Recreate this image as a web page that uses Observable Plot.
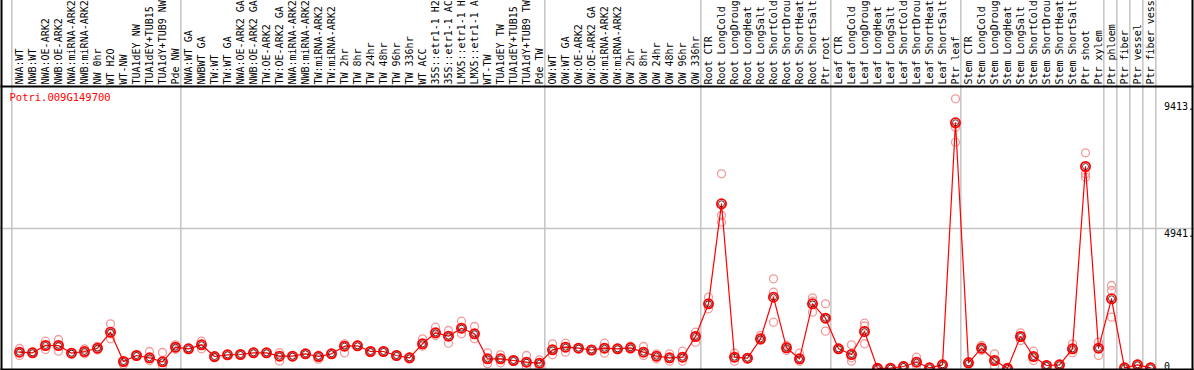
<!DOCTYPE html>
<html>
<head>
<meta charset="utf-8">
<script src="https://cdn.jsdelivr.net/npm/d3@7"></script>
<script src="https://cdn.jsdelivr.net/npm/@observablehq/plot@0.6"></script>
<style>
  html, body { margin: 0; padding: 0; background: white; }
</style>
</head>
<body>
<div id="chart"></div>
<script>
const geneId = "Potri.009G149700";

const labels = [
  "NWA:WT","NWB:WT","NWA:OE-ARK2","NWB:OE-ARK2","NWA:miRNA-ARK2","NWB:miRNA-ARK2","NW 0hr","WT H2O","WT-NW","TUA1dEY NW",
  "TUA1dEY+TUB15 NW","TUA1dY+TUB9 NW","Pde NW","NWA:WT GA","NWBWT GA","TW:WT","TW:WT GA","NWA:OE-ARK2 GA","NWB:OE-ARK2 GA","TW:OE-ARK2",
  "TW:OE-ARK2 GA","NWA:miRNA-ARK2","NWB:miRNA-ARK2","TW:miRNA-ARK2","TW:miRNA-ARK2","TW 2hr","TW 8hr","TW 24hr","TW 48hr","TW 96hr",
  "TW 336hr","WT ACC","35S::etr1-1 H2O","35S::etr1-1 ACC","LMX5::etr1-1 H2O","LMX5::etr1-1 ACC","WT-TW","TUA1dEY TW","TUA1dEY+TUB15 TW","TUA1dY+TUB9 TW",
  "Pde TW","OW:WT","OW:WT GA","OW:OE-ARK2","OW:OE-ARK2 GA","OW:miRNA-ARK2","OW:miRNA-ARK2","OW 2hr","OW 8hr","OW 24hr",
  "OW 48hr","OW 96hr","OW 336hr","Root CTR","Root LongCold","Root LongDrought","Root LongHeat","Root LongSalt","Root ShortCold","Root ShortDrought",
  "Root ShortHeat","Root ShortSalt","Ptr root","Leaf CTR","Leaf LongCold","Leaf LongDrought","Leaf LongHeat","Leaf LongSalt","Leaf ShortCold","Leaf ShortDrought",
  "Leaf ShortHeat","Leaf ShortSalt","Ptr leaf","Stem CTR","Stem LongCold","Stem LongDrought","Stem LongHeat","Stem LongSalt","Stem ShortCold","Stem ShortDrought",
  "Stem ShortHeat","Stem ShortSalt","Ptr shoot","Ptr xylem","Ptr phloem","Ptr fiber","Ptr vessel","Ptr fiber vessel"
];

const means = [
  575,554,812,812,540,600,716,1281,247,459,
  378,236,752,695,836,423,483,494,554,554,
  434,434,519,423,519,787,801,600,600,459,
  378,872,1260,1140,1422,1225,342,342,282,222,
  187,660,752,716,653,716,695,730,575,434,
  378,399,1129,2283,5812,399,363,1048,2516,730,
  342,2283,1775,695,494,1306,5,10,70,222,
  25,130,8671,201,716,282,5,1129,423,106,
  130,695,7129,716,2460,25,130,25
];

const rep1 = [
  706,580,963,1023,560,695,776,1577,247,480,
  600,565,836,720,963,423,500,510,570,570,
  554,450,530,470,530,872,830,620,610,480,
  400,1048,1457,1341,1669,1482,554,483,300,459,
  307,872,893,740,670,893,720,787,776,519,
  519,610,1281,2516,6871,540,380,1165,3166,812,
  540,2495,2283,720,836,1599,0,20,100,399,
  40,160,9518,240,812,519,10,1260,610,130,
  150,872,7612,928,2929,40,150,40
];
const rep2 = [
  565,540,812,800,530,590,716,1220,247,459,
  360,236,752,695,836,400,483,494,554,554,
  434,434,519,423,519,787,801,600,600,459,
  378,872,1260,1140,1422,1225,342,342,282,222,
  187,660,752,716,653,716,695,730,575,434,
  378,399,1129,2283,5399,399,363,1048,2693,730,
  342,2380,1775,695,378,1500,10,10,70,222,
  25,130,8515,201,716,282,5,1129,423,106,
  130,695,6871,716,2753,25,130,25
];
const rep3 = [
  459,540,670,610,530,519,656,1048,141,430,
  282,106,680,680,695,380,460,480,540,540,
  258,420,500,330,500,554,780,560,590,440,
  340,787,1165,893,1225,1048,166,200,260,70,
  70,483,575,700,640,540,670,680,459,342,
  258,258,928,2107,5163,258,340,988,1634,635,
  258,1987,1316,670,258,872,5,0,40,106,
  10,100,7986,160,640,81,0,988,282,80,
  110,560,6751,459,1810,10,110,10
];

// last category index of each group (group separators drawn after them)
const groupEnds = [-1, 12, 40, 52, 62, 72, 83, 84, 85, 86, 87];

const yTicks = [4941, 9413];
const yTickLabels = ["4941.", "9413."];
const yZero = [0];

const idx = labels.map((_, i) => i);
const meanData = idx.map(i => ({i, v: means[i]}));
const repData = idx.flatMap(i => [rep1[i], rep2[i], rep3[i]].map(v => ({i, v})));

const font = "DejaVu Sans Mono";
const border = {stroke: "black", strokeWidth: 2};

const chart = Plot.plot({
  width: 1194,
  height: 370,
  marginTop: 86,
  marginLeft: 1,
  marginRight: 2,
  marginBottom: 1,
  style: {fontFamily: font, fontSize: "10px", background: "white", color: "black"},
  x: {type: "linear", domain: [0, 87], range: [19, 1150], axis: null},
  y: {type: "linear", domain: [0, 4941], range: [368, 228], axis: null},
  marks: [
    Plot.ruleX(groupEnds, {x: d => d + 0.41, stroke: "#c4c4c4", strokeWidth: 1.5, insetTop: -86}),
    Plot.ruleY([yTicks[0]], {stroke: "#c4c4c4", strokeWidth: 1.5, insetLeft: -1, insetRight: -2}),
    Plot.text(idx, {
      x: d => d, text: d => labels[d], frameAnchor: "top", rotate: -90,
      textAnchor: "start", lineAnchor: "middle", dy: -2, fill: "black",
      fontFamily: font, fontSize: 10
    }),
    Plot.text([geneId], {
      frameAnchor: "top-left", dx: 8, dy: 7, textAnchor: "start", lineAnchor: "top",
      fill: "red", fontFamily: font, fontSize: 10.5
    }),
    Plot.text(yTicks, {
      y: d => d, text: (d, k) => yTickLabels[k], frameAnchor: "right", dx: -28.5, dy: 1.5,
      textAnchor: "start", lineAnchor: "top", fill: "black", fontFamily: font, fontSize: 10
    }),
    Plot.text(yZero, {
      y: d => d, text: d => String(d), frameAnchor: "right", dx: -28.5, dy: 1,
      textAnchor: "start", lineAnchor: "bottom", fill: "black", fontFamily: font, fontSize: 10
    }),
    Plot.dot(repData, {x: "i", y: "v", r: 4, stroke: "#f09a9a", strokeWidth: 1.3, fill: "none"}),
    Plot.line(meanData, {x: "i", y: "v", stroke: "red", strokeWidth: 1.2}),
    Plot.dot(meanData, {x: "i", y: "v", r: 4.6, stroke: "red", strokeWidth: 1.8, fill: "none"}),
    Plot.dot(meanData, {x: "i", y: "v", r: 3, stroke: "#300000", strokeWidth: 0.8, fill: "none"}),
    Plot.frame({anchor: "top", ...border}),
    Plot.frame({anchor: "bottom", ...border}),
    Plot.frame({anchor: "left", insetTop: -86, ...border}),
    Plot.frame({anchor: "right", insetTop: -86, ...border})
  ]
});
document.getElementById("chart").appendChild(chart);
</script>
</body>
</html>
